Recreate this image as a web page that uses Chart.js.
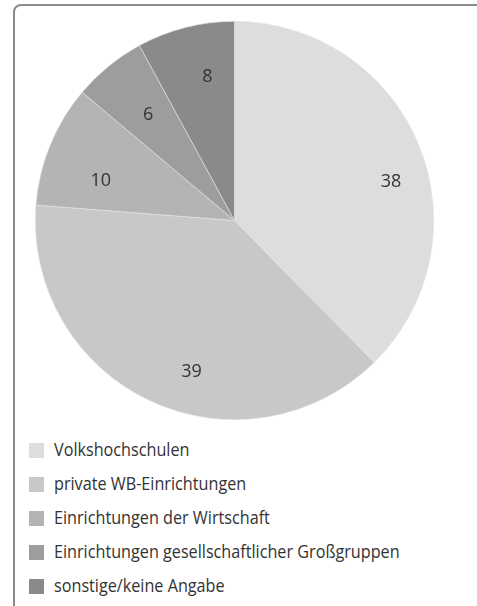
<!DOCTYPE html>
<html><head><meta charset="utf-8">
<script src="https://cdn.jsdelivr.net/npm/chart.js@4"></script>
<style>
html,body{margin:0;padding:0;background:#fff;width:477px;height:606px;overflow:hidden;}
#frame{position:absolute;left:13px;top:4px;width:480px;height:620px;border:2px solid #8a8a8a;border-radius:8px;box-sizing:border-box;}
#wrap{position:absolute;left:35px;top:21px;width:399px;height:399px;}
#legend{position:absolute;left:29px;top:433px;margin:0;padding:0;list-style:none;font-family:"Open Sans",sans-serif;font-size:16.2px;color:#333;}
#legend li{height:34.1px;position:relative;}
#legend li span.box{position:absolute;left:0;top:10px;width:15px;height:15px;}
#legend li span.txt{position:absolute;left:25px;top:6.5px;white-space:nowrap;transform:scaleY(1.12);transform-origin:left bottom;}
</style></head>
<body>
<div id="frame"></div>
<div id="wrap"><canvas id="c"></canvas></div>
<ul id="legend"></ul>
<script>
const categories = ["Volkshochschulen","private WB-Einrichtungen","Einrichtungen der Wirtschaft","Einrichtungen gesellschaftlicher Großgruppen","sonstige/keine Angabe"];
const values = [38,39,10,6,8];
const colors = ["#dcdddf","#c7c8ca","#b3b4b6","#9c9d9f","#898a8c"];

// label placement style: angular nudge (deg) and radial fraction of outer radius
const labelNudgeDeg = [8.3,-9.1,-5.8,0,3.6];
const labelRadiusFrac = [0.81,0.79,0.70,0.685,0.735];

const labelPlugin = {
  id:'sliceLabels',
  afterDatasetsDraw(chart){
    const ctx = chart.ctx;
    const meta = chart.getDatasetMeta(0);
    ctx.save();
    ctx.font = '18px "Open Sans", sans-serif';
    ctx.fillStyle = '#333';
    ctx.textAlign = 'center';
    ctx.textBaseline = 'middle';
    meta.data.forEach((arc,i)=>{
      const p = arc.getProps(['x','y','startAngle','endAngle','outerRadius'],true);
      const mid = (p.startAngle+p.endAngle)/2 + labelNudgeDeg[i]*Math.PI/180;
      const r = p.outerRadius*labelRadiusFrac[i];
      ctx.fillText(String(values[i]), p.x+Math.cos(mid)*r, p.y+Math.sin(mid)*r);
    });
    ctx.restore();
  }
};

new Chart(document.getElementById('c'),{
  type:'pie',
  data:{labels:categories,datasets:[{data:values,backgroundColor:colors,borderWidth:0.6,borderColor:'#e6e6e6'}]},
  options:{responsive:true,maintainAspectRatio:false,animation:false,
    layout:{padding:0},
    plugins:{legend:{display:false},tooltip:{enabled:false}}},
  plugins:[labelPlugin]
});

const ul = document.getElementById('legend');
categories.forEach((c,i)=>{
  const li=document.createElement('li');
  li.innerHTML='<span class="box" style="background:'+colors[i]+'"></span><span class="txt"></span>';
  li.querySelector('.txt').textContent=c;
  ul.appendChild(li);
});
</script>
</body></html>
